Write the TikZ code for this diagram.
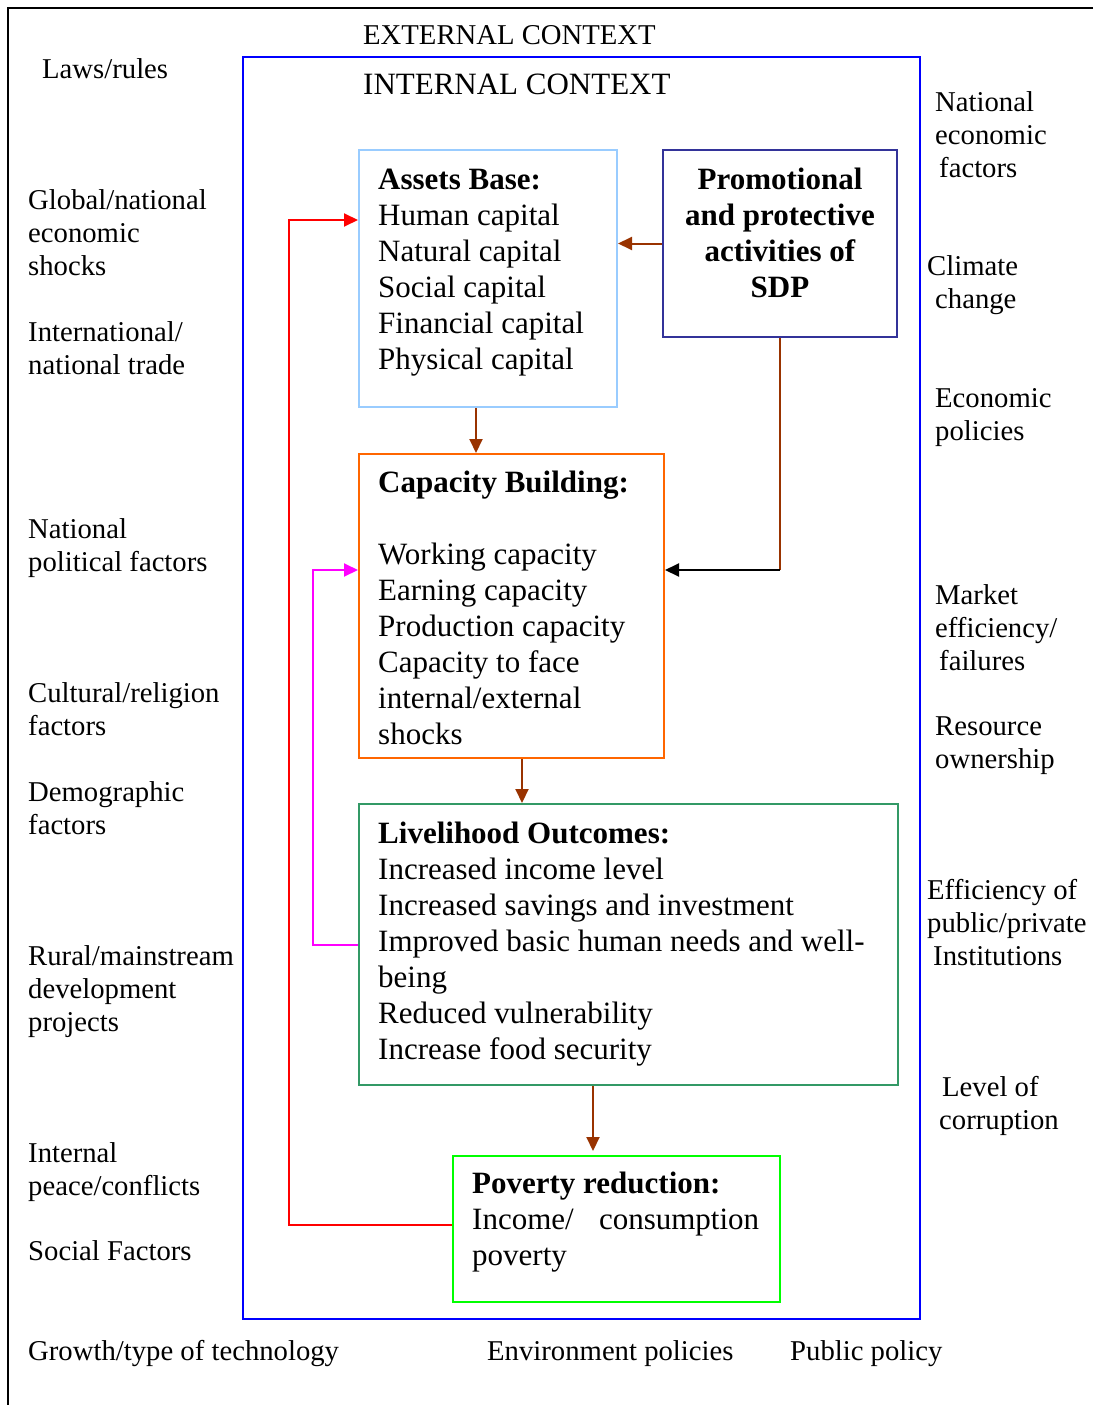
\documentclass[tikz,border=0pt]{standalone}
\usepackage{fontspec}
\setmainfont{Liberation Serif}
\usetikzlibrary{arrows.meta,positioning,calc}
\definecolor{ctxblue}{HTML}{0000FF}
\definecolor{assetblue}{HTML}{99CCFF}
\definecolor{sdpblue}{HTML}{333399}
\definecolor{caporange}{HTML}{FF6600}
\definecolor{outgreen}{HTML}{339966}
\definecolor{povgreen}{HTML}{00FF00}
\definecolor{arrbrown}{HTML}{993300}
\definecolor{pink}{HTML}{FF00FF}
\tikzset{
  side/.style={anchor=base west,inner sep=0pt,align=left,font=\fontsize{28.7}{33}\selectfont},
  box/.style={draw=#1,line width=2pt,anchor=north west,inner sep=0pt},
  boxtext/.style={anchor=base west,inner sep=0pt,align=left,font=\fontsize{31}{36}\selectfont},
  arr/.style={draw=#1,line width=2pt,-{Triangle[length=14pt,width=13pt]}}
}
\begin{document}
\begin{tikzpicture}[x=1pt,y=-1pt,line join=miter]
\useasboundingbox (0,0) rectangle (1093,1405);
\draw[line width=2.5pt] (1093,8) -- (8,8) -- (8,1405);
\node[box=ctxblue,minimum width=677pt,minimum height=1262pt] (internal) at (242,56) {};
\node[side] (ext) at (363,45) {EXTERNAL CONTEXT};
\node[side,font=\fontsize{31}{36}\selectfont] (int) at (363,95) {INTERNAL CONTEXT};
% boxes
\node[box=assetblue,minimum width=258pt,minimum height=257pt] (assets) at (358,149) {};
\node[box=sdpblue,minimum width=234pt,minimum height=187pt] (promo) at (662,149) {};
\node[box=caporange,minimum width=305pt,minimum height=304pt] (capacity) at (358,453) {};
\node[box=outgreen,minimum width=539pt,minimum height=281pt] (outcome) at (358,803) {};
\node[box=povgreen,minimum width=327pt,minimum height=146pt] (poverty) at (452,1155) {};
\node[boxtext] (assetstext) at ($(assets.north west)+(20,220)$)
  {\textbf{Assets Base:}\\Human capital\\Natural capital\\Social capital\\Financial capital\\Physical capital};
\node[boxtext,anchor=base,align=center] (promotext) at ($(promo.north)+(0,148)$)
  {\textbf{Promotional}\\\textbf{and protective}\\\textbf{activities of}\\\textbf{SDP}};
\node[boxtext] (captext) at ($(capacity.north west)+(20,291)$)
  {\textbf{Capacity Building:}\\[36pt]Working capacity\\Earning capacity\\Production capacity\\Capacity to face\\internal/external\\shocks};
\node[boxtext] (outtext) at ($(outcome.north west)+(20,256)$)
  {\textbf{Livelihood Outcomes:}\\Increased income level\\Increased savings and investment\\Improved basic human needs and well-\\being\\Reduced vulnerability\\Increase food security};
\node[boxtext] (povtext) at ($(poverty.north west)+(20,110)$)
  {\textbf{Poverty reduction:}\\\makebox[287pt][l]{Income/\hfill consumption}\\poverty};
% arrows
\draw[arr=arrbrown] (promo.west) -- (promo.west -| assets.east);
\draw[arr=arrbrown] ([xshift=118pt]assets.south west) -- ([xshift=118pt]capacity.north west);
\draw[arr=arrbrown] ([xshift=164pt]capacity.south west) -- ([xshift=164pt]outcome.north west);
\draw[arr=arrbrown,shorten >=4pt] ([xshift=235pt]outcome.south west) -- ([xshift=141pt]poverty.north west);
\coordinate (sdpturn) at (promo.south |- 0,570);
\draw[draw=arrbrown,line width=2pt] (promo.south) -- (sdpturn);
\draw[arr=black] (sdpturn) -- (sdpturn -| capacity.east);
\coordinate (redturn) at (289,220);
\draw[arr=red] ([yshift=4pt]poverty.west) -| (redturn) -- (redturn -| assets.west);
\coordinate (pinkturn) at (313,570);
\draw[arr=pink] (outcome.west) -| (pinkturn) -- (pinkturn -| capacity.west);
% external factors, left
\node[side] (laws) at (42,78) {Laws/rules};
\node[side] (shocks) at (28,275) {Global/national\\economic\\shocks};
\node[side] (trade) at (28,374) {International/\\national trade};
\node[side] (political) at (28,571) {National\\political factors};
\node[side] (cultural) at (28,735) {Cultural/religion\\factors};
\node[side] (demo) at (28,834) {Demographic\\factors};
\node[side] (rural) at (28,1031) {Rural/mainstream\\development\\projects};
\node[side] (peace) at (28,1195) {Internal\\peace/conflicts};
\node[side] (social) at (28,1260) {Social Factors};
% external factors, bottom
\node[side] (tech) at (28,1360) {Growth/type of technology};
\node[side] (env) at (487,1360) {Environment policies};
\node[side] (public) at (790,1360) {Public policy};
% external factors, right
\node[side] (natecon) at (935,177) {National\\economic\\\hspace{4pt}factors};
\node[side] (climate) at (927,308) {Climate\\\hspace{8pt}change};
\node[side] (econpol) at (935,440) {Economic\\policies};
\node[side] (market) at (935,670) {Market\\efficiency/\\\hspace{4pt}failures};
\node[side] (resource) at (935,768) {Resource\\ownership};
\node[side] (instit) at (927,965) {Efficiency of\\public/private\\\hspace{6pt}Institutions};
\node[side] (corrupt) at (939,1129) {\hspace{3pt}Level of\\corruption};
\end{tikzpicture}
\end{document}
